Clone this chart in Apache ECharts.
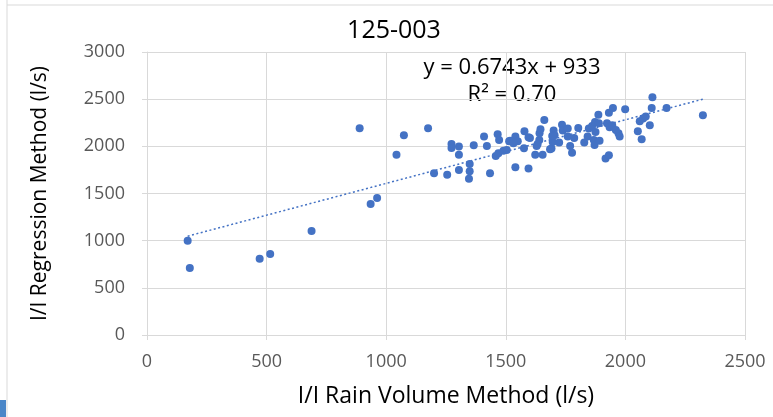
<!DOCTYPE html>
<html>
<head>
<meta charset="utf-8">
<script src="https://cdn.jsdelivr.net/npm/echarts@6/dist/echarts.min.js"></script>
<style>html,body{margin:0;padding:0;background:#fff;}#c{width:773px;height:417px;}</style>
</head>
<body>
<div id="c"></div>
<script>
const titleText = '125-003';
const xName = 'I/I Rain Volume Method (l/s)';
const yName = 'I/I Regression Method (l/s)';
const xTicks = [0, 500, 1000, 1500, 2000, 2500];
const yTicks = [0, 500, 1000, 1500, 2000, 2500, 3000];
const trendSlope = 0.6743;
const trendIntercept = 933;
const trendLabel = ['y = 0.6743x + 933', 'R² = 0.70'];
const points = [
  [170,1000],[179,710],[471,809],[515,859],[688,1103],[935,1389],[962,1453],
  [889,2192],[1074,2118],[1175,2192],[1043,1912],[1273,2025],[1273,1983],[1304,1997],[1304,1912],[1200,1714],[1255,1700],[1304,1750],
  [1349,1813],[1349,1736],[1346,1657],[1366,2012],[1409,2103],[1421,2004],[1434,1714],[1466,2128],[1472,2068],[1458,1898],[1469,1926],[1490,1954],
  [1514,2054],[1540,2103],[1550,2054],[1540,1778],[1578,2160],[1576,1980],[1595,2095],[1595,1764],[1623,1912],[1629,2004],[1640,2068],[1641,2139],
  [1645,2181],[1654,1912],[1661,2280],[1691,1976],[1696,2047],[1700,2167],[1704,2118],[1735,2230],[1738,2167],[1759,2188],[1759,2103],[1769,2004],
  [1777,1933],[1786,2089],[1803,2195],[1828,2040],[1842,2103],[1847,2188],[1861,2216],[1873,2259],[1875,2153],[1868,2068],[1871,2015],[1889,2245],
  [1887,2336],[1892,2060],[1917,1870],[1931,1905],[1923,2245],[1931,2357],[1948,2407],[1934,2202],[1945,2224],[1960,2174],[1971,2139],[1976,2103],
  [1999,2393],[2052,2160],[2068,2075],[2060,2266],[2074,2294],[2085,2315],[2102,2224],[2110,2407],[2113,2521],[2172,2407],[2324,2330],
  [1518,2060],[1532,2033],[1601,2089],[1633,2025],[1694,2110],[1685,1969],[1723,2040],[1504,1962]
];

const xs = points.map(p => p[0]);
const xMin = Math.min.apply(null, xs), xMax = Math.max.apply(null, xs);
const trend = [[xMin, trendSlope * xMin + trendIntercept], [xMax, trendSlope * xMax + trendIntercept]];

const font = '"Open Sans", Lato, sans-serif';
const plain = v => String(v);
const chart = echarts.init(document.getElementById('c'), null, {renderer: 'canvas'});
chart.setOption({
  animation: false,
  backgroundColor: '#fff',
  grid: {left: 147, right: 28, top: 52, bottom: 82},
  xAxis: {
    type: 'value', min: 0, max: xTicks[xTicks.length - 1], interval: 500,
    name: xName, nameLocation: 'middle', nameGap: 50,
    nameTextStyle: {fontFamily: font, fontSize: 23, color: '#000'},
    axisLine: {show: true, lineStyle: {color: '#d9d9d9'}},
    axisTick: {show: true, length: 5, lineStyle: {color: '#d9d9d9'}},
    axisLabel: {fontFamily: font, fontSize: 18, color: '#595959', margin: 18, formatter: plain},
    splitLine: {show: true, lineStyle: {color: '#d9d9d9', width: 1}}
  },
  yAxis: {
    type: 'value', min: 0, max: yTicks[yTicks.length - 1], interval: 500,
    name: yName, nameLocation: 'middle', nameGap: 96, nameRotate: 90,
    nameTextStyle: {fontFamily: font, fontSize: 21, color: '#000'},
    axisLine: {show: true, lineStyle: {color: '#d9d9d9'}},
    axisTick: {show: true, length: 5, lineStyle: {color: '#d9d9d9'}},
    axisLabel: {fontFamily: font, fontSize: 18, color: '#595959', margin: 22, formatter: plain},
    splitLine: {show: true, lineStyle: {color: '#d9d9d9', width: 1}}
  },
  graphic: [
    {type: 'line', shape: {x1: 7, y1: 0, x2: 7, y2: 417}, style: {stroke: '#d9d9d9', lineWidth: 1}},
    {type: 'line', shape: {x1: 7, y1: 5, x2: 773, y2: 5}, style: {stroke: '#d9d9d9', lineWidth: 1}},
    {type: 'rect', shape: {x: 0, y: 400, width: 6, height: 17}, style: {fill: '#4a86c8'}},
    {type: 'text', x: 394, y: 31, style: {text: titleText, font: '25px ' + font, fill: '#000', textAlign: 'center', textVerticalAlign: 'middle'}},
    {type: 'text', x: 512, y: 68, style: {text: trendLabel[0], font: '22px ' + font, fill: '#000', textAlign: 'center', textVerticalAlign: 'middle'}},
    {type: 'text', x: 512, y: 95, style: {text: trendLabel[1], font: '22px ' + font, fill: '#000', textAlign: 'center', textVerticalAlign: 'middle'}}
  ],
  series: [
    {
      type: 'line', data: trend, symbol: 'none', silent: true, z: 1,
      lineStyle: {color: '#4472C4', width: 1.5, type: [2, 2.5]}
    },
    {
      type: 'scatter', data: points, symbol: 'circle', symbolSize: 8, z: 2,
      itemStyle: {color: '#4472C4', opacity: 1}
    }
  ]
});
</script>
</body>
</html>
